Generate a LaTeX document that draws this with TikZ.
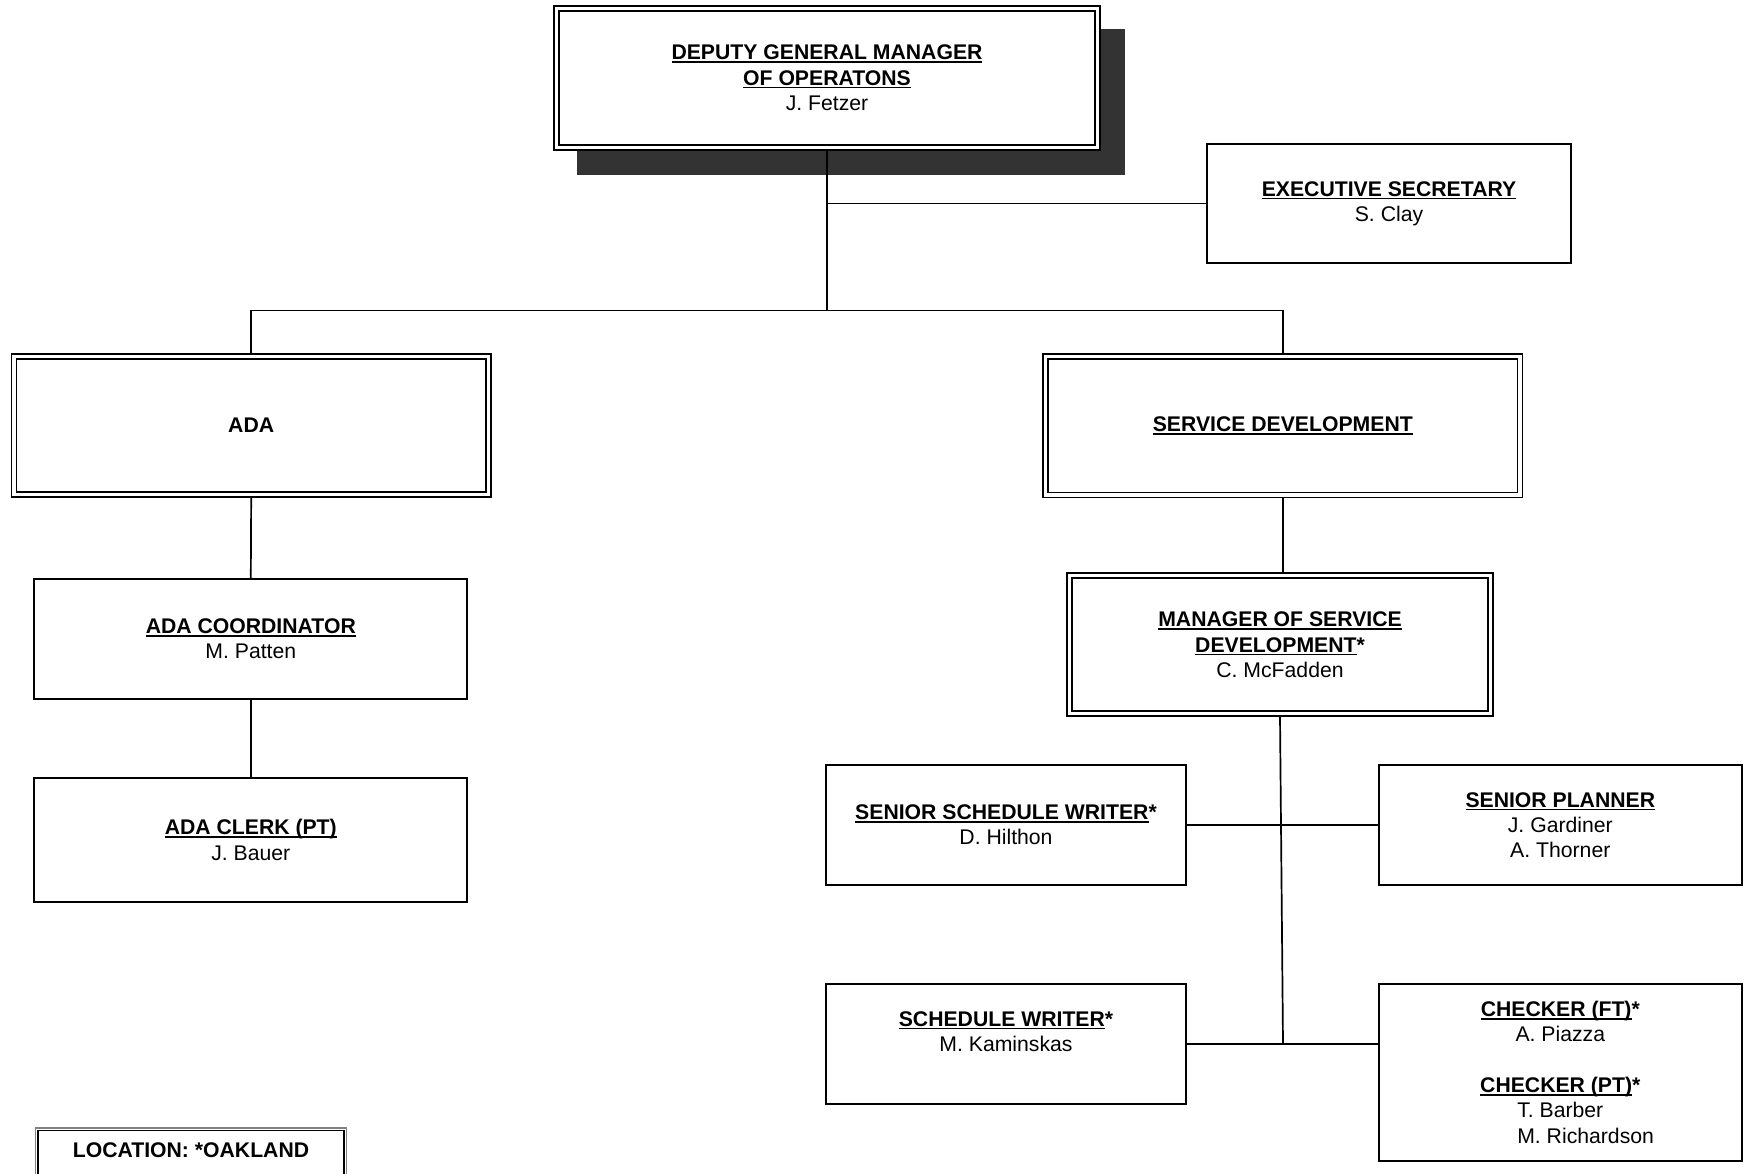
\documentclass[tikz,border=0pt]{standalone}
\usepackage{fontspec}
\setmainfont{Liberation Sans}
\usetikzlibrary{backgrounds}
\definecolor{shadowgrey}{RGB}{51,51,51}
% underlined title text with a fixed rule position
\newcommand\ulx[1]{\setbox0=\hbox{#1}\rlap{\rule[-3pt]{\wd0}{1.5pt}}\box0}
\newcommand\ttl[1]{\textbf{\ulx{#1}}}

\begin{document}
\begin{tikzpicture}[x=1pt,y=-1pt,
  every node/.style={font=\fontsize{21.2pt}{25.3pt}\selectfont, align=center, inner sep=0pt},
  sbox/.style={draw, line width=2pt, fill=white},
  dbox/.style={draw, double, line width=1.7pt, double distance=3.2pt, outer sep=3.3pt, fill=white},
  link/.style={line width=1.7pt}]
\useasboundingbox (0,0) rectangle (1744,1173);
\clip (0,0) rectangle (1744,1173);

% top of the chart
\node[dbox, minimum width=540.6pt, minimum height=139.1pt] (dgm) at (827,77.9)
  {\ttl{DEPUTY GENERAL MANAGER}\\\ttl{OF OPERATONS}\\J. Fetzer};
\begin{scope}[on background layer]
  \fill[shadowgrey] ([shift={(24,24)}]dgm.north west) rectangle ([shift={(24,24)}]dgm.south east);
\end{scope}

\node[sbox, minimum width=364pt, minimum height=119pt] (exec) at (1389,203.5)
  {\ttl{EXECUTIVE SECRETARY}\\S. Clay};

% divisions
\node[dbox, minimum width=474.4pt, minimum height=137.8pt] (ada) at (251.2,425.5)
  {\textbf{ADA}};
\node[dbox, minimum width=474.4pt, minimum height=138.4pt] (sd) at (1282.8,425.8)
  {\ttl{SERVICE DEVELOPMENT}};

% ADA branch
\node[sbox, minimum width=433pt, minimum height=119.7pt] (coord) at (250.8,638.9)
  {\ttl{ADA COORDINATOR}\\M. Patten};
\node[sbox, minimum width=433pt, minimum height=123.4pt] (clerk) at (250.8,840)
  {\ttl{ADA CLERK (PT)}\\J. Bauer};

% service development branch
\node[dbox, minimum width=421.4pt, minimum height=138pt] (mgr) at (1280,644.7)
  {\ttl{MANAGER OF SERVICE}\\\textbf{\ulx{DEVELOPMENT}*}\\C. McFadden};
\node[sbox, minimum width=360.5pt, minimum height=120pt] (ssw) at (1006,825)
  {\textbf{\ulx{SENIOR SCHEDULE WRITER}*}\\D. Hilthon};
\node[sbox, minimum width=363.4pt, minimum height=120pt] (sp) at (1560.3,825)
  {\ttl{SENIOR PLANNER}\\J. Gardiner\\A. Thorner};
\node[sbox, minimum width=360.5pt, minimum height=120pt] (sw) at (1006,1044) {};
\node (swtext) at (1006,1031.5) {\textbf{\ulx{SCHEDULE WRITER}*}\\M. Kaminskas};
\node[sbox, minimum width=363.4pt, minimum height=176.7pt] (chk) at (1560.3,1072.3)
  {\textbf{\ulx{CHECKER (FT)}*}\\A. Piazza\\[25.3pt]\textbf{\ulx{CHECKER (PT)}*}\\T. Barber\\
   \makebox[0pt][l]{M. Richardson}\phantom{T. Barber}};

% connectors
\coordinate (busmid) at (827,310.5);
\coordinate (jn) at (1283,1043.5);
\draw[link] (dgm.south) -- (busmid);
\draw[link] (dgm.south |- exec.west) -- (exec.west);
\draw[link] (ada.north) -- (ada.north |- busmid) -- (sd.north |- busmid) -- (sd.north);
\draw[link] (ada.south) -- (coord.north);
\draw[link] (coord.south) -- (clerk.north);
\draw[link] (sd.south) -- (sd.south |- mgr.north);
\draw[link] (mgr.south) -- (jn);
\draw[link] (ssw.east) -- (sp.west);
\draw[link] (sw.east) -- (sw.east -| chk.west);

% location legend
\draw[gray, line width=1.3pt] (35.5,1128) rectangle (346.5,1200);
\draw[line width=1.3pt] (38,1130.5) rectangle (344,1200);
\node (loc) at (191,1150) {\textbf{LOCATION: *OAKLAND}};
\end{tikzpicture}
\end{document}
